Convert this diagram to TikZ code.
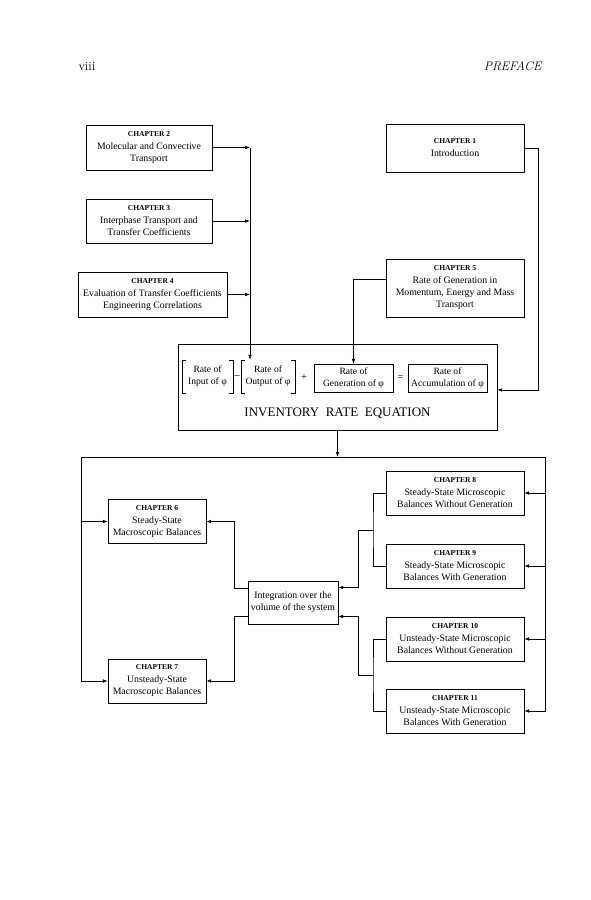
\documentclass[tikz,border=0pt]{standalone}
\usepackage{fontspec}
\usepackage{tikz}
\usetikzlibrary{arrows.meta,positioning}
\newfontfamily\chapfont{Liberation Serif}
\newcommand{\chaphead}[1]{{\fontsize{7.5}{9}\selectfont\bfseries CHAPTER #1}\\[1pt]}

\begin{document}
\begin{tikzpicture}[
    x=1pt, y=-1pt,
    chbox/.style={draw, fill=white, align=center, inner sep=1pt,
                  font=\chapfont\fontsize{9.8}{12}\selectfont},
    eqbox/.style={draw, align=center, inner sep=1pt, minimum height=28pt,
                  font=\chapfont\fontsize{9.6}{12}\selectfont},
    brk/.style={align=center, inner sep=1pt, minimum height=33pt,
                font=\chapfont\fontsize{9.6}{12}\selectfont},
    sym/.style={font=\chapfont\fontsize{10.5}{12}\selectfont, inner sep=0pt},
    line/.style={line width=0.6pt},
    arr/.style={-{Latex[length=5pt,width=3.6pt]}, line width=0.6pt}
]
\useasboundingbox (0,0) rectangle (591,900);

% --- running head ---
\node[anchor=base west, font=\fontsize{12.5}{15}\selectfont] (pgno) at (75,70) {viii};
\node[anchor=base east, font=\fontsize{12.5}{15}\selectfont\itshape] (runhead) at (545,70) {PREFACE};

% --- upper chapters ---
\node[chbox, minimum width=126pt, minimum height=45pt] (ch2) at (149,147.5) {\chaphead{2}Molecular and Convective\\Transport};
\node[chbox, minimum width=126pt, minimum height=44pt] (ch3) at (149,221) {\chaphead{3}Interphase Transport and\\Transfer Coefficients};
\node[chbox, minimum width=149pt, minimum height=45pt] (ch4) at (152.5,294.5) {\chaphead{4}Evaluation of Transfer Coefficients\\Engineering Correlations};
\node[chbox, minimum width=138pt, minimum height=48pt] (ch1) at (455,148) {\chaphead{1}Introduction};
\node[chbox, minimum width=138pt, minimum height=58pt] (ch5) at (455,288) {\chaphead{5}Rate of Generation in\\Momentum, Energy and Mass\\Transport};

% --- inventory rate equation ---
\node[draw, minimum width=319pt, minimum height=86pt] (ire) at (337.5,387) {};
\node[brk, minimum width=51pt] (inp) at (207.5,376.5) {Rate of\\Input of φ};
\node[sym] (minus) at (237,377) {\textendash};
\node[brk, minimum width=54pt] (outp) at (268,376.5) {Rate of\\Output of φ};
\node[sym] (plus) at (304,378) {+};
\node[eqbox, minimum width=79pt] (gen) at (353.5,378) {Rate of\\Generation of φ};
\node[sym] (equal) at (400.5,378) {=};
\node[eqbox, minimum width=79pt] (acc) at (447.5,378) {Rate of\\Accumulation of φ};
\node[font=\chapfont\fontsize{13}{15}\selectfont] (iretitle) at (337.5,413) {INVENTORY\ \ RATE\ \ EQUATION};

\foreach \b in {inp,outp}{
  \draw[line] ([xshift=4pt]\b.north west) -- (\b.north west) -- (\b.south west) -- ([xshift=4pt]\b.south west);
  \draw[line] ([xshift=-4pt]\b.north east) -- (\b.north east) -- (\b.south east) -- ([xshift=-4pt]\b.south east);
}

% --- lower chapters ---
\node[chbox, minimum width=98pt, minimum height=44pt] (ch6) at (157,521.5) {\chaphead{6}Steady-State\\Macroscopic Balances};
\node[chbox, minimum width=98pt, minimum height=44pt] (ch7) at (157,681) {\chaphead{7}Unsteady-State\\Macroscopic Balances};
\node[chbox, minimum width=90pt, minimum height=43pt] (integ) at (293,602.5) {Integration over the\\volume of the system};
\node[chbox, minimum width=138pt, minimum height=44pt] (ch8) at (455,493) {\chaphead{8}Steady-State Microscopic\\Balances Without Generation};
\node[chbox, minimum width=138pt, minimum height=44pt] (ch9) at (455,566) {\chaphead{9}Steady-State Microscopic\\Balances With Generation};
\node[chbox, minimum width=138pt, minimum height=44pt] (ch10) at (455,639) {\chaphead{10}Unsteady-State Microscopic\\Balances Without Generation};
\node[chbox, minimum width=138pt, minimum height=44pt] (ch11) at (455,711) {\chaphead{11}Unsteady-State Microscopic\\Balances With Generation};

% --- junction points ---
\coordinate (colA) at (250,147.5);
\coordinate (busL) at (81,457);
\coordinate (busR) at (545,457);
\coordinate (j89) at (373,530);
\coordinate (j1011) at (373,675);

% --- into the equation ---
\draw[arr] (ch2.east) -- (ch2.east -| colA);
\draw[arr] (ch3.east) -- (ch3.east -| colA);
\draw[arr] (ch4.east) -- (ch4.east -| colA);
\draw[arr] (colA) -- (colA |- outp.north);
\draw[arr] ([yshift=9pt]ch5.west) -| (gen.north);
\draw[arr] (ch1.east) -- ++(14,0) |- ([yshift=-3pt]ire.east);

% --- out of the equation ---
\draw[arr] (ire.south) -- (ire.south |- busL);
\draw[line] (busL) -- (busR);
\draw[arr] (busL) |- (ch7.west);
\draw[arr] (busL |- ch6.west) -- (ch6.west);
\draw[arr] (busR) |- (ch11.east);
\draw[arr] (busR |- ch8.east) -- (ch8.east);
\draw[arr] (busR |- ch9.east) -- (ch9.east);
\draw[arr] (busR |- ch10.east) -- (ch10.east);

% --- integration ---
\draw[line] (ch8.west) -| (j89) |- (ch9.west);
\draw[line] (ch10.west) -| (j1011) |- (ch11.west);
\draw[arr] (j89) -- ++(-15,0) |- ([yshift=15pt]integ.east);
\draw[arr] (j1011) -- ++(-15,0) |- ([yshift=-14pt]integ.east);
\draw[arr] ([yshift=14pt]integ.west) -- ++(-14,0) |- (ch6.east);
\draw[arr] ([yshift=-14pt]integ.west) -- ++(-14,0) |- (ch7.east);

\end{tikzpicture}
\end{document}
